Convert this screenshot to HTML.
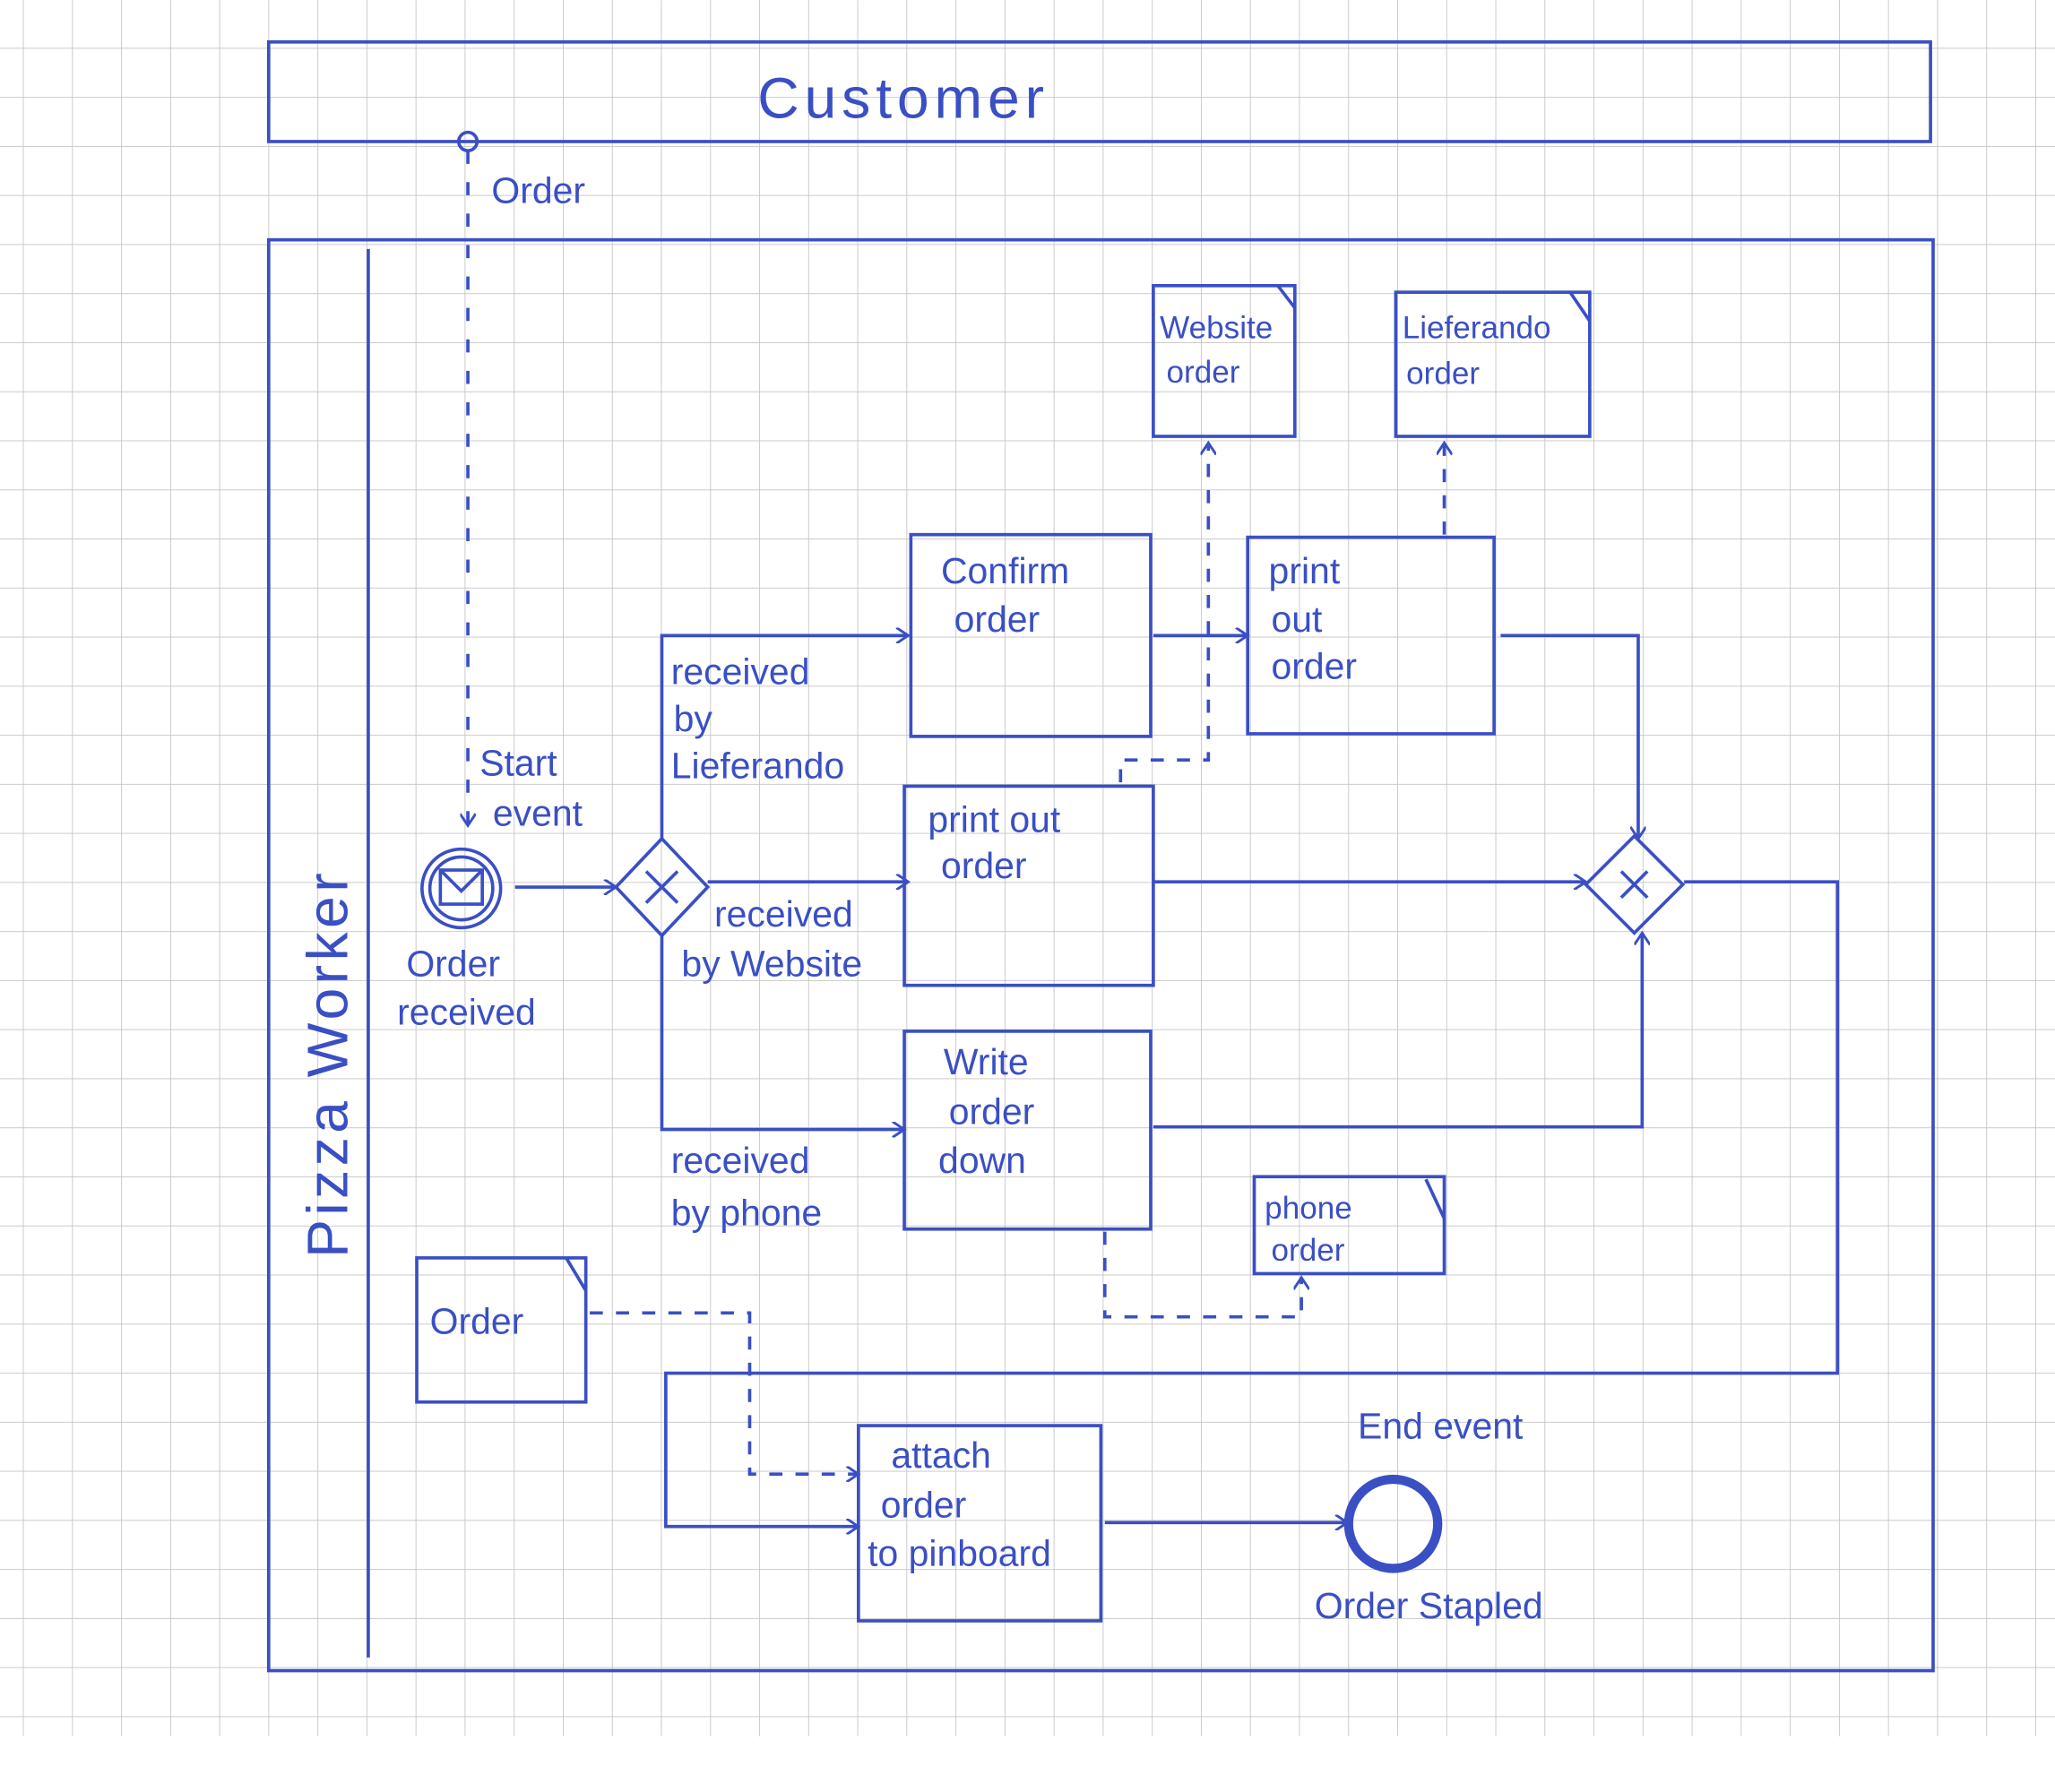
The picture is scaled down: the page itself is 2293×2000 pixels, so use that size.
<!DOCTYPE html>
<html><head><meta charset="utf-8"><style>
html,body{margin:0;padding:0;background:#fff;}
svg{display:block;}
text{font-family:"Liberation Sans",sans-serif;fill:#3a4fc4;}
</style></head><body>
<svg width="2293" height="2000" viewBox="0 0 1568 1367.6" xmlns="http://www.w3.org/2000/svg">
<defs>
<pattern id="g" x="17.5" y="36.5" width="37.45" height="37.45" patternUnits="userSpaceOnUse">
<path d="M0 0H37.45M0 0V37.45" stroke="#c4c4c4" stroke-width="1.2" fill="none"/>
</pattern>
<marker id="a" markerWidth="12" markerHeight="12" refX="10" refY="6" orient="auto" markerUnits="userSpaceOnUse"><path d="M1 0L10 6L1 12" fill="none" stroke="#3a4fc4" stroke-width="2"/></marker>
</defs>
<rect x="0" y="0" width="1568" height="1325" fill="url(#g)"/>
<g stroke="#3a4fc4" stroke-width="2.5" fill="none">
<rect x="205" y="32" width="1268" height="76"/>
<rect x="205" y="183" width="1270" height="1092"/>
<line x1="281" y1="190" x2="281" y2="1265"/>
<circle cx="357" cy="108" r="7"/>
<line x1="357" y1="115" x2="357" y2="630" stroke-dasharray="10 14" marker-end="url(#a)"/>
<circle cx="352" cy="678" r="30"/>
<circle cx="352" cy="678" r="24"/>
<rect x="336" y="664" width="32" height="26"/>
<path d="M336 664L352 680L368 664"/>
<line x1="393" y1="677" x2="470" y2="677" marker-end="url(#a)"/>
<path d="M505 640L540 677L505 714L470 677Z"/>
<path d="M493 665L517 689M517 665L493 689"/>
<path d="M505 640V485H693" marker-end="url(#a)"/>
<line x1="540" y1="673" x2="693" y2="673" marker-end="url(#a)"/>
<path d="M505 714V862H690" marker-end="url(#a)"/>
<rect x="695" y="408" width="183" height="154"/>
<rect x="690" y="600" width="190" height="152"/>
<rect x="690" y="787" width="188" height="151"/>
<rect x="952" y="410" width="188" height="150"/>
<rect x="880" y="218" width="108" height="115"/><path d="M975 218L988 235"/>
<rect x="1065" y="223" width="148" height="110"/><path d="M1198 223L1213 245"/>
<rect x="957" y="898" width="145" height="74"/><path d="M1088 900L1102 930"/>
<rect x="318" y="960" width="129" height="110"/><path d="M432 960L447 985"/>
<rect x="655" y="1088" width="185" height="149"/>
<line x1="880" y1="485" x2="952" y2="485" marker-end="url(#a)"/>
<path d="M1145 485H1250V640" marker-end="url(#a)"/>
<line x1="880" y1="673" x2="1210" y2="673" marker-end="url(#a)"/>
<path d="M880 860H1253V712" marker-end="url(#a)"/>
<path d="M1247 638L1284 675L1247 712L1210 675Z"/>
<path d="M1237 665L1257 685M1257 665L1237 685"/>
<path d="M1285 673H1402V1048H508V1165H655" marker-end="url(#a)"/>
<line x1="843" y1="1162" x2="1028" y2="1162" marker-end="url(#a)"/>
<circle cx="1063" cy="1163" r="34" stroke-width="7"/>
<g stroke-dasharray="10 10">
<path d="M855 597V580H922V338" marker-end="url(#a)"/>
<path d="M1102 408V338" marker-end="url(#a)"/>
<path d="M843 940V1005H993V975" marker-end="url(#a)"/>
<path d="M450 1002H572V1125H655" marker-end="url(#a)"/>
</g>
</g>
<g font-size="28">
<text x="578" y="90" font-size="44" letter-spacing="4">Customer</text>
<text x="375" y="155">Order</text>
<text x="265" y="960" font-size="44" transform="rotate(-90 265 960)" letter-spacing="3">Pizza Worker</text>
<text x="366" y="592">Start</text><text x="376" y="630">event</text>
<text x="310" y="745">Order</text><text x="303" y="782">received</text>
<text x="512" y="522">received</text><text x="514" y="558">by</text><text x="512" y="594">Lieferando</text>
<text x="545" y="707">received</text><text x="520" y="745">by Website</text>
<text x="512" y="895">received</text><text x="512" y="935">by phone</text>
<text x="718" y="445">Confirm</text><text x="728" y="482">order</text>
<text x="708" y="635">print out</text><text x="718" y="670">order</text>
<text x="720" y="820">Write</text><text x="724" y="858">order</text><text x="716" y="895">down</text>
<text x="968" y="445">print</text><text x="970" y="482">out</text><text x="970" y="518">order</text>
<text x="885" y="258" font-size="24">Website</text><text x="890" y="292" font-size="24">order</text>
<text x="1070" y="258" font-size="24">Lieferando</text><text x="1073" y="293" font-size="24">order</text>
<text x="965" y="930" font-size="24">phone</text><text x="970" y="962" font-size="24">order</text>
<text x="328" y="1018">Order</text>
<text x="680" y="1120">attach</text><text x="672" y="1158">order</text><text x="662" y="1195">to pinboard</text>
<text x="1036" y="1098">End event</text>
<text x="1003" y="1235">Order Stapled</text>
</g>
</svg>
</body></html>
